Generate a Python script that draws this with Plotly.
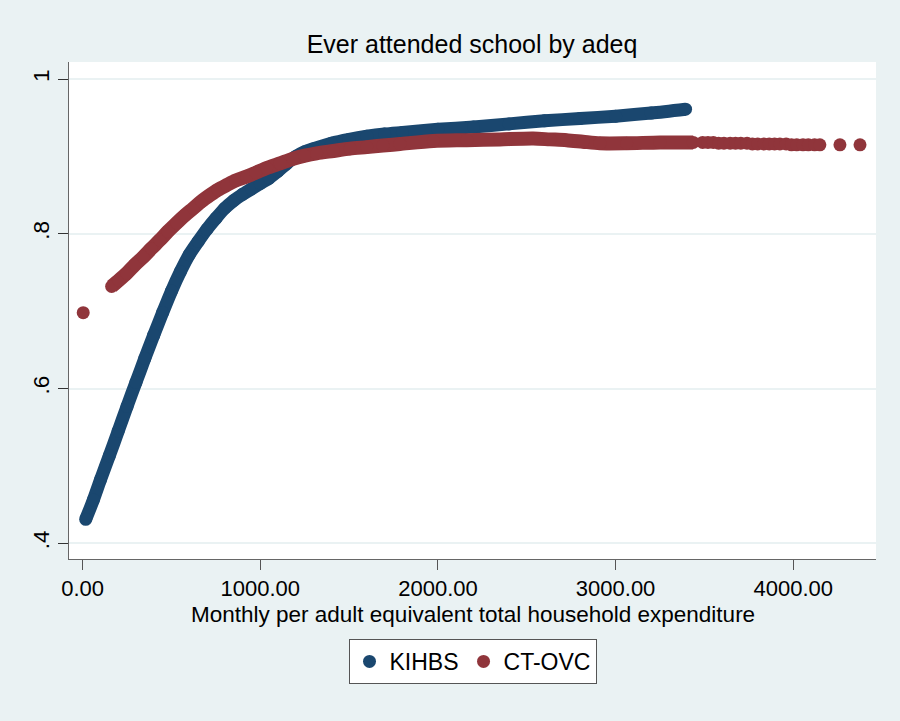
import plotly.graph_objects as go

# ---- data (lowess-smoothed curves) ----
kihbs_x = [17, 60, 100, 150, 200, 250, 300, 350, 400, 450, 500, 550, 600, 650, 700,
           750, 800, 850, 900, 950, 1000, 1050, 1100, 1150, 1200, 1250, 1300, 1400,
           1500, 1600, 1700, 1800, 2000, 2200, 2400, 2600, 2800, 3000, 3200, 3394]
kihbs_y = [0.431, 0.456, 0.482, 0.513, 0.545, 0.577, 0.608, 0.639, 0.669, 0.698,
           0.726, 0.751, 0.773, 0.790, 0.806, 0.820, 0.833, 0.843, 0.851, 0.858,
           0.865, 0.872, 0.881, 0.891, 0.900, 0.906, 0.910, 0.917, 0.922, 0.926,
           0.929, 0.931, 0.935, 0.938, 0.942, 0.946, 0.949, 0.952, 0.956, 0.961]

ctovc_first_x = [3]
ctovc_first_y = [0.698]

ctovc_x = [163, 204, 248, 294, 341, 387, 435, 480, 529, 576, 623, 669, 717, 762,
           811, 863, 923, 975, 1036, 1111, 1185, 1251, 1317, 1411, 1505, 1599, 1690,
           1786, 1974, 2162, 2349, 2536, 2630, 2724, 2816, 2912, 3062, 3250, 3437]
ctovc_y = [0.732, 0.740, 0.749, 0.760, 0.770, 0.781, 0.792, 0.803, 0.814, 0.824,
           0.833, 0.842, 0.850, 0.857, 0.863, 0.869, 0.874, 0.879, 0.885, 0.891,
           0.897, 0.901, 0.904, 0.907, 0.910, 0.912, 0.914, 0.916, 0.920, 0.921,
           0.922, 0.923, 0.922, 0.921, 0.919, 0.917, 0.917, 0.918, 0.918]

ctovc_tail_x = [3490, 3520, 3550, 3580, 3610, 3645, 3675, 3705, 3740, 3770, 3800,
                3835, 3865, 3895, 3925, 3960, 3990, 4020, 4055, 4085, 4120, 4150,
                4263, 4376]
ctovc_tail_y = [0.918, 0.918, 0.918, 0.917, 0.917, 0.917, 0.917, 0.917, 0.917, 0.916,
                0.916, 0.916, 0.916, 0.916, 0.916, 0.916, 0.915, 0.915, 0.915, 0.915,
                0.915, 0.915, 0.915, 0.915]

x_ticks = [0, 1000, 2000, 3000, 4000]
x_tick_text = ["0.00", "1000.00", "2000.00", "3000.00", "4000.00"]
y_ticks = [0.4, 0.6, 0.8, 1.0]
y_tick_text = [".4", ".6", ".8", "1"]

NAVY = "#1A476F"
MAROON = "#90353B"
BG = "#EAF2F3"
FONT = "Liberation Sans, Arial, Helvetica, sans-serif"

fig = go.Figure()

# KIHBS band
fig.add_trace(go.Scatter(x=kihbs_x, y=kihbs_y, mode="lines",
                         line=dict(color=NAVY, width=13, shape="spline", smoothing=0.8),
                         showlegend=False, hoverinfo="skip"))
fig.add_trace(go.Scatter(x=kihbs_x, y=kihbs_y, mode="markers", name="KIHBS",
                         marker=dict(color=NAVY, size=13)))

# CT-OVC band
fig.add_trace(go.Scatter(x=ctovc_x, y=ctovc_y, mode="lines",
                         line=dict(color=MAROON, width=14, shape="spline", smoothing=0.8),
                         showlegend=False, hoverinfo="skip"))
fig.add_trace(go.Scatter(x=ctovc_first_x + ctovc_x + ctovc_tail_x,
                         y=ctovc_first_y + ctovc_y + ctovc_tail_y,
                         mode="markers", name="CT-OVC",
                         marker=dict(color=MAROON, size=13)))

fig.update_layout(
    width=900, height=721,
    paper_bgcolor=BG, plot_bgcolor="white",
    margin=dict(l=69, r=24, t=62, b=162),
    font=dict(family=FONT, color="black", size=22),
    title=dict(text="Ever attended school by adeq", x=0.5245, xanchor="center",
               y=1 - 44 / 721, yanchor="middle", yref="container",
               font=dict(size=25, family=FONT, color="black")),
    showlegend=True,
    legend=dict(orientation="h", x=0.5, xanchor="center", y=-0.161, yanchor="top",
                bgcolor="white", bordercolor="#555555", borderwidth=1,
                font=dict(size=23, family=FONT, color="black"),
                itemwidth=30),
)

fig.update_xaxes(range=[-77, 4466], tickvals=x_ticks, ticktext=x_tick_text,
                 showgrid=False, zeroline=False, showline=True, linecolor="#666666",
                 linewidth=1, ticks="outside", ticklen=10, tickcolor="#555555",
                 tickfont=dict(size=22, family=FONT, color="black"))
fig.update_yaxes(range=[0.3797, 1.022], tickvals=y_ticks, ticktext=y_tick_text,
                 showgrid=True, gridcolor=BG, gridwidth=2, zeroline=False,
                 showline=True, linecolor="#666666", linewidth=1,
                 ticks="outside", ticklen=10, tickcolor="#333333", tickangle=-90,
                 tickfont=dict(size=22.5, family=FONT, color="black"))

fig.add_annotation(text="Monthly per adult equivalent total household expenditure",
                   xref="paper", yref="paper", x=0.5, y=-(614 - 559) / 497,
                   xanchor="center", yanchor="middle", showarrow=False,
                   font=dict(size=22.5, family=FONT, color="black"))

fig.write_html("out.html", config={"displayModeBar": False},
               post_script="document.body.style.margin='0';document.body.style.overflow='hidden';")
